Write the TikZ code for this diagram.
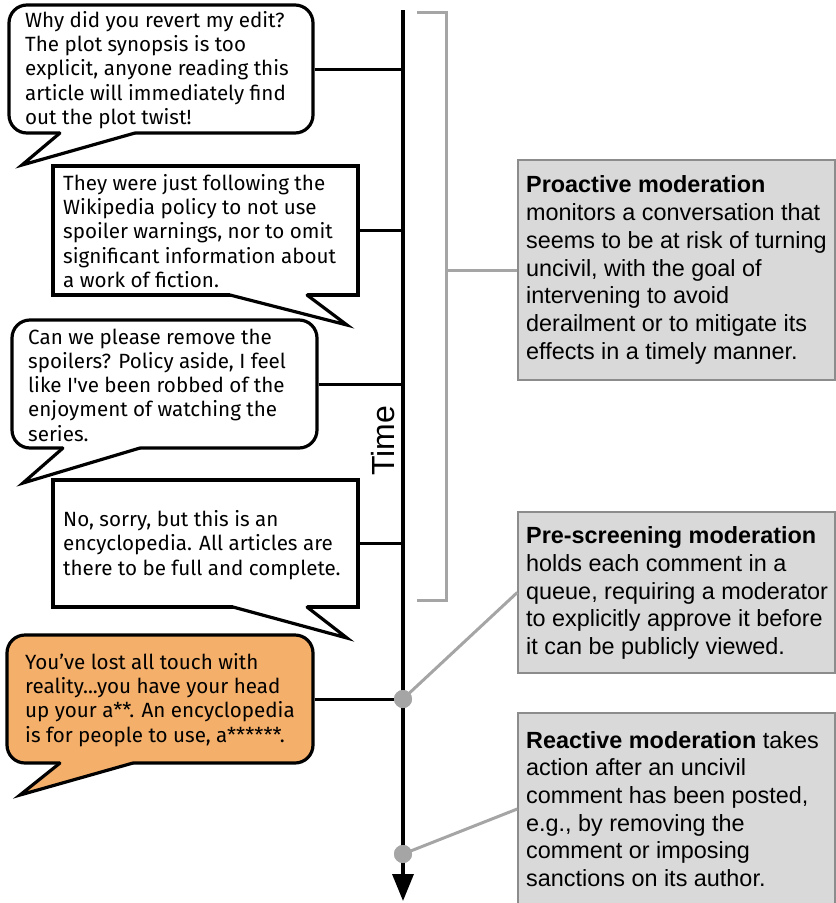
\documentclass[tikz,border=0pt]{standalone}
\usepackage{fontspec}
\setmainfont{Liberation Sans}
\newfontfamily\fira{Fira Sans}[Ligatures=TeXOff]
\usetikzlibrary{arrows.meta}
\definecolor{orng}{HTML}{F4AF6A}
\definecolor{boxfill}{HTML}{D9D9D9}
\definecolor{boxline}{HTML}{8C8C8C}
\definecolor{gline}{HTML}{A5A5A5}
\newcommand\mytail[5]{%
  \fill[#1] (#2,#4-2.6) -- (#3,#4-2.6) -- (#3,#4) -- (#5) -- (#2,#4) -- cycle;
  \draw[tailln] (#2,#4) -- (#5) -- (#3,#4);}
\begin{document}
\begin{tikzpicture}[x=1pt,y=-1pt,
  bubr/.style={draw=black, line width=3.2pt, fill=white, rounded corners=18pt, inner sep=0pt},
  bubs/.style={draw=black, line width=3.2pt, fill=white, inner sep=0pt},
  tailln/.style={draw=black, line width=3.2pt, line cap=round, line join=miter},
  conn/.style={draw=black, line width=3pt},
  btxt/.style={anchor=west, align=left, inner sep=0pt, font=\fira\fontsize{20.6}{24.2}\selectfont},
  mbox/.style={draw=boxline, line width=1.5pt, fill=boxfill, inner sep=0pt},
  mtxt/.style={anchor=west, align=left, inner sep=0pt, font=\fontsize{23.4}{27.7}\selectfont},
  gconn/.style={draw=gline, line width=3pt},
  gdot/.style={circle, fill=gline, minimum size=18pt, inner sep=0pt}]
\useasboundingbox (0,0) rectangle (836,903);
% timeline
\coordinate (tl0) at (403,10);
\coordinate (tl1) at (403,901);
\draw[line width=3.5pt, -{Triangle[length=27pt,width=21pt]}] (tl0) -- (tl1);
\node[font=\fontsize{32}{32}\selectfont, rotate=90, inner sep=0pt] (time) at (383,441) {Time};
% bubbles
\node[bubr, minimum width=304pt, minimum height=128pt] (b1) at (161,69) {};
\mytail{white}{60}{135}{133}{22,165}
\node[btxt] (t1) at (25,70) {Why did you revert my edit?\\The plot synopsis is too\\explicit, anyone reading this\\article will immediately find\\out the plot twist!};
\draw[conn] (b1.east) -- (b1.east -| tl0);

\node[bubs, minimum width=305pt, minimum height=129pt] (b2) at (205.5,230.5) {};
\mytail{white}{230}{307}{295}{347,325}
\node[btxt] (t2) at (63,231) {They were just following the\\Wikipedia policy to not use\\spoiler warnings, nor to omit\\significant information about\\a work of fiction.};
\draw[conn] (b2.east) -- (b2.east -| tl0);

\node[bubr, minimum width=305pt, minimum height=128pt] (b3) at (164.5,384) {};
\mytail{white}{63}{140}{448}{23,483}
\node[btxt] (t3) at (28,385) {Can we please remove the\\spoilers? Policy aside, I feel\\like I've been robbed of the\\enjoyment of watching the\\series.};
\draw[conn] (b3.east) -- (b3.east -| tl0);

\node[bubs, minimum width=305pt, minimum height=127pt] (b4) at (205.5,543.5) {};
\mytail{white}{233}{307}{607}{347,638}
\node[btxt] (t4) at (63,545) {No, sorry, but this is an\\encyclopedia. All articles are\\there to be full and complete.};
\draw[conn] (b4.east) -- (b4.east -| tl0);

\node[bubr, fill=orng, minimum width=306pt, minimum height=128pt] (b5) at (160,699) {};
\mytail{orng}{60}{133}{763}{20,795}
\node[btxt] (t5) at (25,700) {You’ve lost all touch with\\reality...you have your head\\up your a**. An encyclopedia\\is for people to use, a******.};
% moderation boxes
\node[mbox, minimum width=317pt, minimum height=220pt] (pro) at (676.5,270) {};
\node[mtxt] (protx) at (526,270) {\textbf{Proactive moderation}\\monitors a conversation that\\seems to be at risk of turning\\uncivil, with the goal of\\intervening to avoid\\derailment or to mitigate its\\effects in a timely manner.};
\node[mbox, minimum width=317pt, minimum height=161pt] (pre) at (676.5,592.5) {};
\node[mtxt] (pretx) at (526,593) {\textbf{Pre-screening moderation}\\holds each comment in a\\queue, requiring a moderator\\to explicitly approve it before\\it can be publicly viewed.};
\node[mbox, minimum width=317pt, minimum height=192pt] (re) at (676.5,809) {};
\node[mtxt] (retx) at (526,809) {\textbf{Reactive moderation} takes\\action after an uncivil\\comment has been posted,\\e.g., by removing the\\comment or imposing\\sanctions on its author.};
% bracket
\coordinate (brt) at (417,12);
\coordinate (brb) at (417,600);
\coordinate (brm) at (446,270);
\draw[gconn, line join=miter] (brt) -- (446,12) -- (446,600) -- (brb);
\draw[gconn] (brm) -- (pro.west);
% dots
\node[gdot] (d1) at (403,699) {};
\node[gdot] (d2) at (403,854) {};
\draw[conn] (b5.east) -- (d1);
\draw[gconn] (d1.center) -- (pre.west);
\draw[gconn] (d2.center) -- (re.west);
\node[gdot] at (d1) {};
\node[gdot] at (d2) {};
\end{tikzpicture}
\end{document}
